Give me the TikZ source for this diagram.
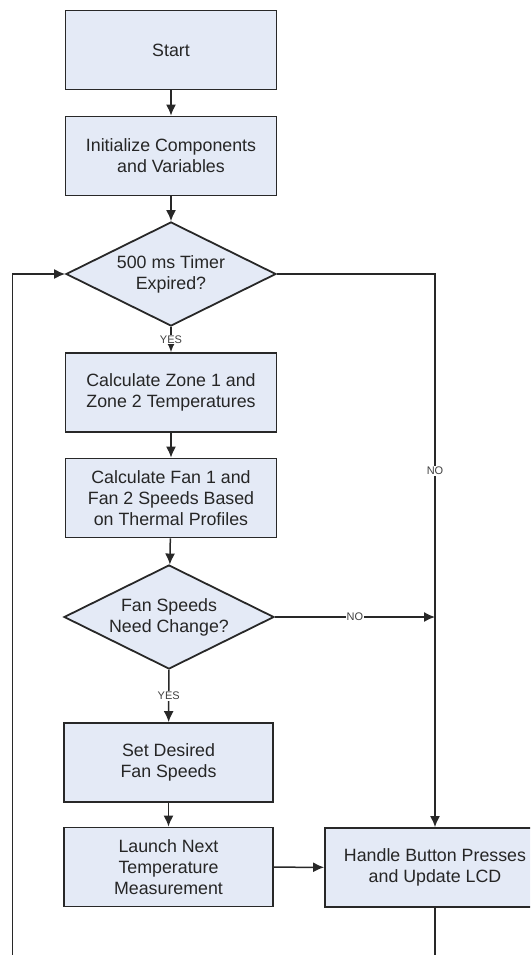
\documentclass[tikz,border=0pt]{standalone}
\usepackage{fontspec}
\setmainfont{Liberation Sans}
\usepackage{tikz}
\usetikzlibrary{arrows.meta,shapes.geometric}

\definecolor{boxfill}{RGB}{228,234,246}
\definecolor{linegray}{RGB}{40,40,40}

\tikzset{
  stepbox/.style={draw=linegray, line width=1.8pt, fill=boxfill, rectangle,
    minimum width=211pt, minimum height=79pt, inner sep=0pt,
    align=center, font=\fontsize{17.8}{21}\selectfont, text=black!85},
  decide/.style={draw=linegray, line width=1.8pt, fill=boxfill, diamond,
    aspect=2, minimum width=210pt, minimum height=104pt, inner sep=0pt,
    align=center, font=\fontsize{17.8}{21}\selectfont, text=black!85},
  flow/.style={draw=linegray, line width=1.5pt, -{Latex[length=11pt,width=10pt]}},
  answer/.style={fill=white, inner sep=1pt, font=\fontsize{11}{12}\selectfont, text=black!75}
}

\begin{document}
\begin{tikzpicture}[x=1pt,y=-1pt]
\useasboundingbox (0,0) rectangle (530,955);
\clip (0,0) rectangle (530,955);

% Boxes and decisions down the main column
\node[stepbox] (start) at (171,50) {Start};
\node[stepbox] (init) at (171,156) {Initialize Components\\and Variables};
\node[decide] (timer) at (171,274) {500 ms Timer\\Expired?};
\node[stepbox] (zones) at (171,392.5) {Calculate Zone 1 and\\Zone 2 Temperatures};
\node[stepbox] (fans) at (171,498) {Calculate Fan 1 and\\Fan 2 Speeds Based\\on Thermal Profiles};
\node[decide] (change) at (169,617) {Fan Speeds\\Need Change?};
\node[stepbox, minimum width=209pt] (setfan) at (168.5,762.5) {Set Desired\\Fan Speeds};
\node[stepbox, minimum width=209pt] (launch) at (168.5,867) {Launch Next\\Temperature\\Measurement};

% Right column
\node[stepbox, minimum width=220pt] (lcd) at (435,867.5) {Handle Button Presses\\and Update LCD};
\coordinate (loop) at (12.5,985);

% Main flow
\draw[flow] (start) -- (init);
\draw[flow] (init) -- (timer);
\draw[flow] (timer) -- node[answer] {YES} (zones);
\draw[flow] (zones) -- (fans);
\draw[flow] (fans) -- (change);
\draw[flow] (change) -- node[answer] {YES} (setfan);
\draw[flow] (setfan) -- (launch);
\draw[flow] (launch) -- (lcd);

% NO branches
\draw[flow] (timer.east) -| node[answer, pos=0.678] {NO} (lcd.north);
\draw[flow] (change.east) -- node[answer, pos=0.5] {NO} (change.east -| lcd.north);

% Loop back to the timer
\draw[flow] (lcd.south) |- (loop) |- (timer.west);

\end{tikzpicture}
\end{document}
